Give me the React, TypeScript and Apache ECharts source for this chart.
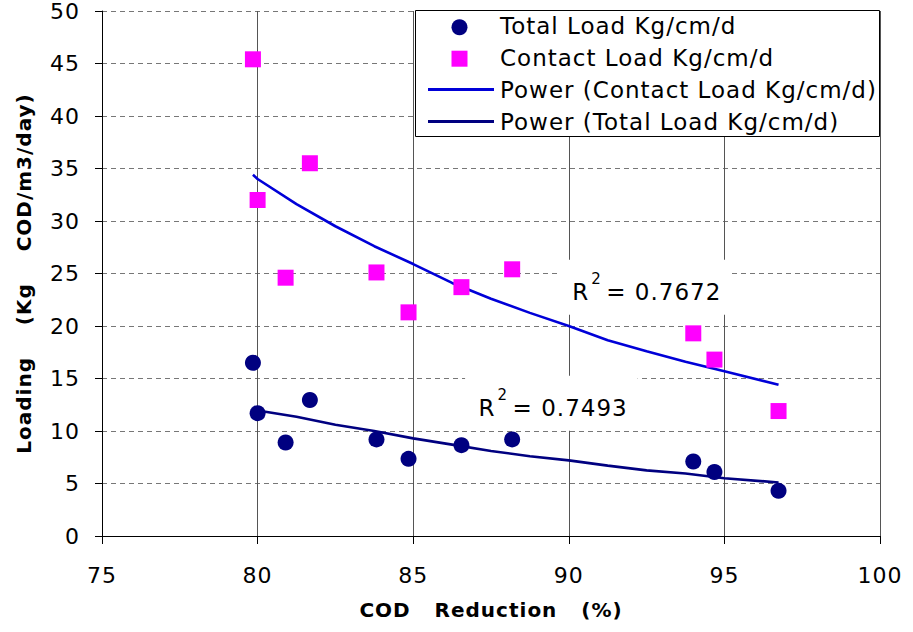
import React, { useEffect, useRef } from "react";
import * as echarts from "echarts";

// ---- data ----
const codReduction = [79.85, 80.0, 80.9, 81.68, 83.82, 84.85, 86.55, 88.18, 94.0, 94.68, 96.74];
const totalLoad = [16.5, 11.7, 8.9, 12.95, 9.2, 7.35, 8.65, 9.2, 7.1, 6.1, 4.3];
const contactLoad = [45.4, 32.0, 24.6, 35.5, 25.1, 21.3, 23.7, 25.4, 19.3, 16.8, 11.9];

// power trend lines
const trendX = [79.85, 80, 81.25, 82.5, 83.75, 85, 86.25, 87.5, 88.75, 90, 91.25, 92.5, 93.75, 95, 96.74];
const contactTrend = [34.4, 34.0, 31.6, 29.5, 27.6, 25.9, 24.1, 22.6, 21.25, 20.0, 18.65, 17.6, 16.6, 15.7, 14.4];
const totalTrend = [12.0, 11.95, 11.35, 10.6, 10.0, 9.3, 8.7, 8.1, 7.6, 7.2, 6.7, 6.25, 5.95, 5.5, 5.1];

const seriesNames = [
  "Total Load Kg/cm/d",
  "Contact Load Kg/cm/d",
  "Power (Contact Load Kg/cm/d)",
  "Power (Total Load Kg/cm/d)",
];

const r2Contact = "0.7672";
const r2Total = "0.7493";
const r2ContactAt = [92.45, 23.7];
const r2TotalAt = [89.44, 12.65];

const FONT = "'DejaVu Sans', sans-serif";
const NAVY = "#000080";
const MAGENTA = "#FF00FF";
const BLUE = "#0000D8";

function r2Series(value: string, at: number[]) {
  return {
    type: "scatter",
    z: 6,
    silent: true,
    symbolSize: 1,
    itemStyle: { color: "rgba(0,0,0,0)" },
    data: [at],
    label: {
      show: true,
      position: "inside",
      opacity: 1,
      formatter: "{r|R}{s|2}{r|= " + value + "}",
      backgroundColor: "#ffffff",
      padding: [12, 14, 3, 14],
      rich: {
        r: { fontSize: 23, fontFamily: FONT, color: "#000", lineHeight: 40 },
        s: {
          fontSize: 15,
          fontFamily: FONT,
          color: "#000",
          lineHeight: 16,
          verticalAlign: "top",
          padding: [0, 9, 0, 3],
        },
      },
    },
  };
}

export default function App() {
  const ref = useRef<HTMLDivElement>(null);
  useEffect(() => {
    if (!ref.current) return;
    const chart = echarts.init(ref.current, undefined, { renderer: "svg" });
    const legendRows = [26.3, 58, 89.8, 121.6];
    const option: any = {
      animation: false,
      backgroundColor: "#ffffff",
      grid: { left: 102, right: 33, top: 11, bottom: 96, containLabel: false },
      xAxis: {
        type: "value",
        min: 75,
        max: 100,
        interval: 5,
        axisLine: { show: true, onZero: false, lineStyle: { color: "#000", width: 1 } },
        axisTick: { show: true, length: 8, lineStyle: { color: "#000" } },
        axisLabel: { fontSize: 22, fontFamily: FONT, color: "#000", margin: 28 },
        splitLine: { show: true, lineStyle: { color: "#555", width: 1 } },
        name: "COD   Reduction   (%)",
        nameLocation: "middle",
        nameGap: 64,
        nameTextStyle: { fontSize: 20, fontWeight: "bold", fontFamily: FONT, color: "#000" },
      },
      yAxis: {
        type: "value",
        min: 0,
        max: 50,
        interval: 5,
        axisLine: { show: true, onZero: false, lineStyle: { color: "#000", width: 1 } },
        axisTick: { show: true, length: 7, lineStyle: { color: "#000" } },
        axisLabel: { fontSize: 22, fontFamily: FONT, color: "#000", margin: 22 },
        splitLine: { show: true, lineStyle: { color: "#777", width: 1, type: [5, 4] } },
        name: "Loading    (Kg    COD/m3/day)",
        nameLocation: "middle",
        nameGap: 68,
        nameRotate: 90,
        nameTextStyle: { fontSize: 20, fontWeight: "bold", fontFamily: FONT, color: "#000" },
      },
      series: [
        {
          name: seriesNames[0],
          type: "scatter",
          symbol: "circle",
          symbolSize: 16,
          z: 7,
          itemStyle: { color: NAVY, opacity: 1 },
          data: codReduction.map((x, i) => [x, totalLoad[i]]),
        },
        {
          name: seriesNames[1],
          type: "scatter",
          symbol: "rect",
          symbolSize: 16,
          z: 7,
          itemStyle: { color: MAGENTA, opacity: 1 },
          data: codReduction.map((x, i) => [x, contactLoad[i]]),
        },
        {
          name: seriesNames[2],
          type: "line",
          symbol: "none",
          showSymbol: false,
          z: 3,
          lineStyle: { color: BLUE, width: 2.6 },
          data: trendX.map((x, i) => [x, contactTrend[i]]),
        },
        {
          name: seriesNames[3],
          type: "line",
          symbol: "none",
          showSymbol: false,
          z: 3,
          lineStyle: { color: NAVY, width: 2.6 },
          data: trendX.map((x, i) => [x, totalTrend[i]]),
        },
        r2Series(r2Contact, r2ContactAt),
        r2Series(r2Total, r2TotalAt),
      ],
      graphic: [
        {
          type: "rect",
          z: 100,
          shape: { x: 415.5, y: 10.5, width: 464, height: 126 },
          style: { fill: "#fff", stroke: "#000", lineWidth: 1 },
        },
        { type: "circle", z: 101, shape: { cx: 459.5, cy: 27.3, r: 8 }, style: { fill: NAVY } },
        { type: "rect", z: 101, shape: { x: 451.5, y: 50.7, width: 16, height: 16 }, style: { fill: MAGENTA } },
        { type: "line", z: 101, shape: { x1: 428, y1: 89.5, x2: 494, y2: 89.5 }, style: { stroke: BLUE, lineWidth: 3 } },
        { type: "line", z: 101, shape: { x1: 428, y1: 121.5, x2: 494, y2: 121.5 }, style: { stroke: NAVY, lineWidth: 3 } },
        ...seriesNames.map((name, i) => ({
          type: "text",
          z: 101,
          x: 500,
          y: legendRows[i],
          style: {
            text: name,
            fontSize: 23,
            fontFamily: FONT,
            fill: "#000",
            align: "left",
            verticalAlign: "middle",
          },
        })),
      ],
    };
    chart.setOption(option);
    return () => chart.dispose();
  }, []);
  return (
    <div
      ref={ref}
      style={{
        position: "fixed",
        left: 0,
        top: 0,
        width: 913,
        height: 632,
        background: "#fff",
        letterSpacing: "1px",
      }}
    />
  );
}
